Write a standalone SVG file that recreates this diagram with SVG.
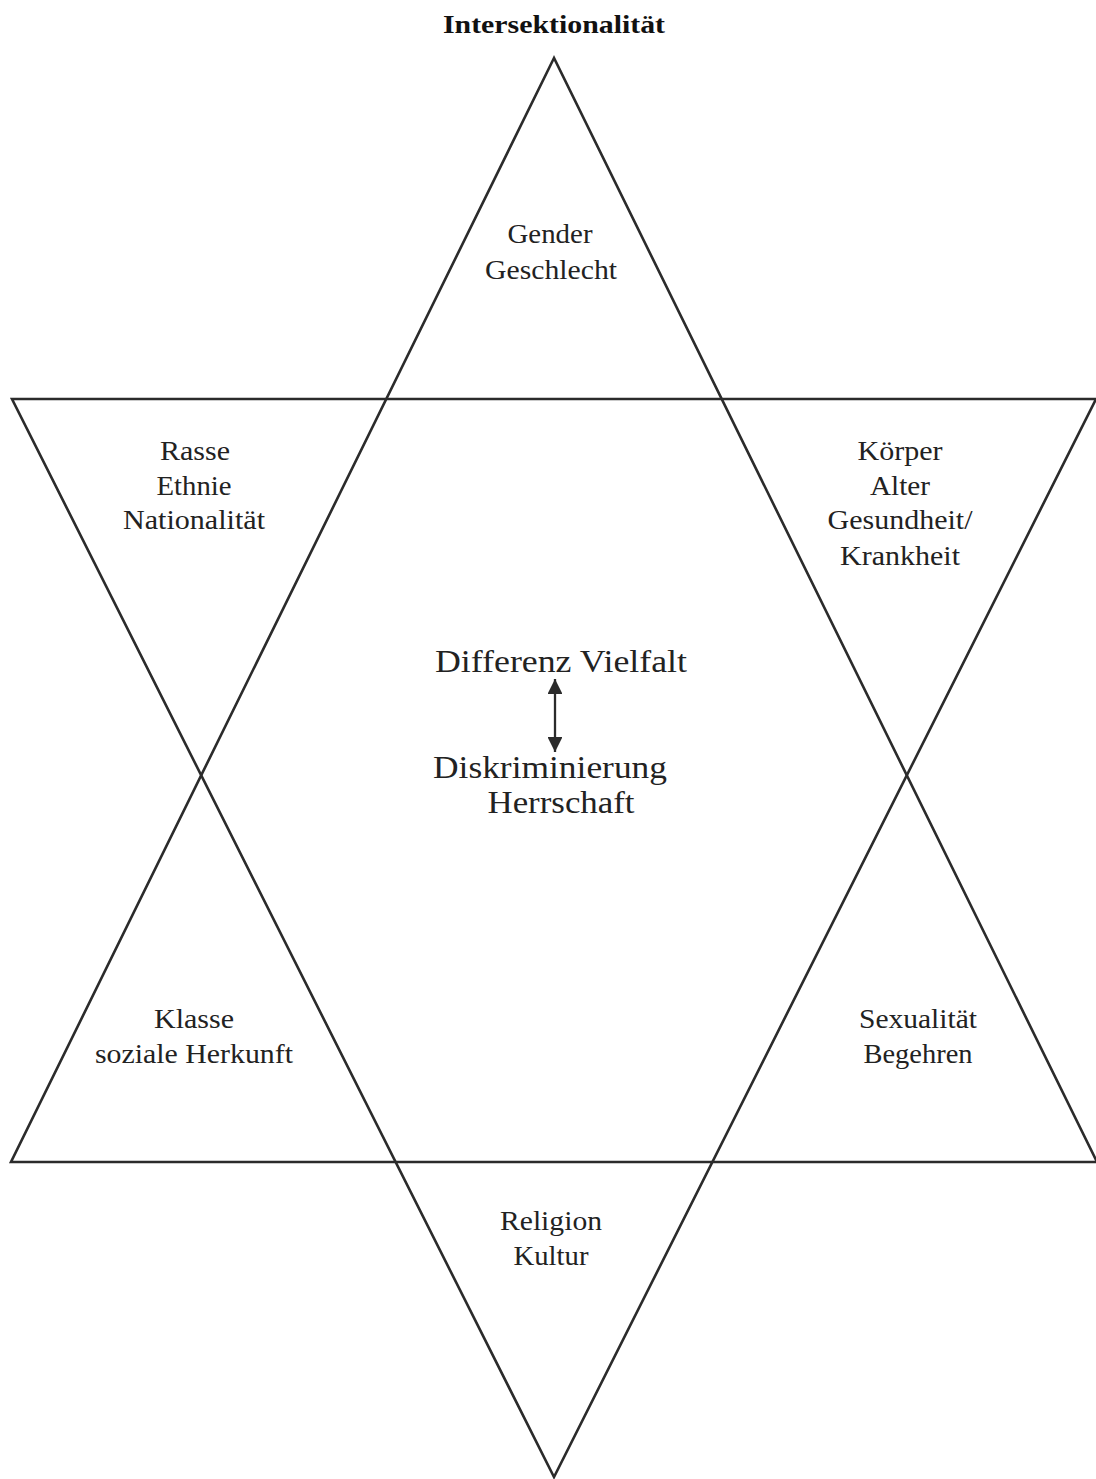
<svg xmlns="http://www.w3.org/2000/svg" width="1096" height="1479" viewBox="0 0 1096 1479">
<style>
.tri{fill:none;stroke:#2b2b2b;stroke-width:2.6;stroke-linejoin:miter}
.lbl{font-family:"Liberation Serif","Times New Roman",serif;font-size:28px;fill:#222;text-anchor:middle}
.ctr{font-family:"Liberation Serif","Times New Roman",serif;font-size:31px;fill:#222;text-anchor:middle}
.ttl{font-family:"Liberation Serif","Times New Roman",serif;font-size:26px;font-weight:bold;fill:#111;text-anchor:middle}
</style>
<defs>
<marker id="ah" viewBox="0 0 10 10" refX="10" refY="5" markerWidth="6.5" markerHeight="6.5" orient="auto-start-reverse" markerUnits="strokeWidth">
<path d="M0,0 L10,5 L0,10 z" fill="#2b2b2b"/>
</marker>
</defs>
<rect width="1096" height="1479" fill="#fff"/>
<g id="title"><text class="ttl" x="554" y="33" textLength="222" lengthAdjust="spacingAndGlyphs">Intersektionalität</text></g>
<g id="star">
<polygon id="triangle-up" class="tri" points="554,58 11,1162 1097,1162"/>
<polygon id="triangle-down" class="tri" points="12,399 1096,399 554,1477"/>
</g>
<g id="node-gender"><text class="lbl" x="550" y="243" textLength="85" lengthAdjust="spacingAndGlyphs">Gender</text><text class="lbl" x="551" y="279" textLength="132" lengthAdjust="spacingAndGlyphs">Geschlecht</text></g>
<g id="node-rasse"><text class="lbl" x="195" y="460" textLength="70" lengthAdjust="spacingAndGlyphs">Rasse</text><text class="lbl" x="194" y="495" textLength="75" lengthAdjust="spacingAndGlyphs">Ethnie</text><text class="lbl" x="194" y="529" textLength="142" lengthAdjust="spacingAndGlyphs">Nationalität</text></g>
<g id="node-koerper"><text class="lbl" x="900" y="460" textLength="85" lengthAdjust="spacingAndGlyphs">Körper</text><text class="lbl" x="900" y="495" textLength="60" lengthAdjust="spacingAndGlyphs">Alter</text><text class="lbl" x="900" y="529" textLength="145" lengthAdjust="spacingAndGlyphs">Gesundheit/</text><text class="lbl" x="900" y="565" textLength="120" lengthAdjust="spacingAndGlyphs">Krankheit</text></g>
<g id="node-center"><text class="ctr" x="561" y="672" textLength="252" lengthAdjust="spacingAndGlyphs">Differenz Vielfalt</text><text class="ctr" x="550" y="778" textLength="234" lengthAdjust="spacingAndGlyphs">Diskriminierung</text><text class="ctr" x="561" y="813" textLength="147" lengthAdjust="spacingAndGlyphs">Herrschaft</text></g>
<g id="connectors"><line x1="555" y1="679" x2="555" y2="752" stroke="#2b2b2b" stroke-width="2.3" marker-start="url(#ah)" marker-end="url(#ah)"/></g>
<g id="node-klasse"><text class="lbl" x="194" y="1028" textLength="80" lengthAdjust="spacingAndGlyphs">Klasse</text><text class="lbl" x="194" y="1063" textLength="198" lengthAdjust="spacingAndGlyphs">soziale Herkunft</text></g>
<g id="node-sexualitaet"><text class="lbl" x="918" y="1028" textLength="118" lengthAdjust="spacingAndGlyphs">Sexualität</text><text class="lbl" x="918" y="1063" textLength="109" lengthAdjust="spacingAndGlyphs">Begehren</text></g>
<g id="node-religion"><text class="lbl" x="551" y="1230" textLength="102" lengthAdjust="spacingAndGlyphs">Religion</text><text class="lbl" x="551" y="1265" textLength="75" lengthAdjust="spacingAndGlyphs">Kultur</text></g>
</svg>
